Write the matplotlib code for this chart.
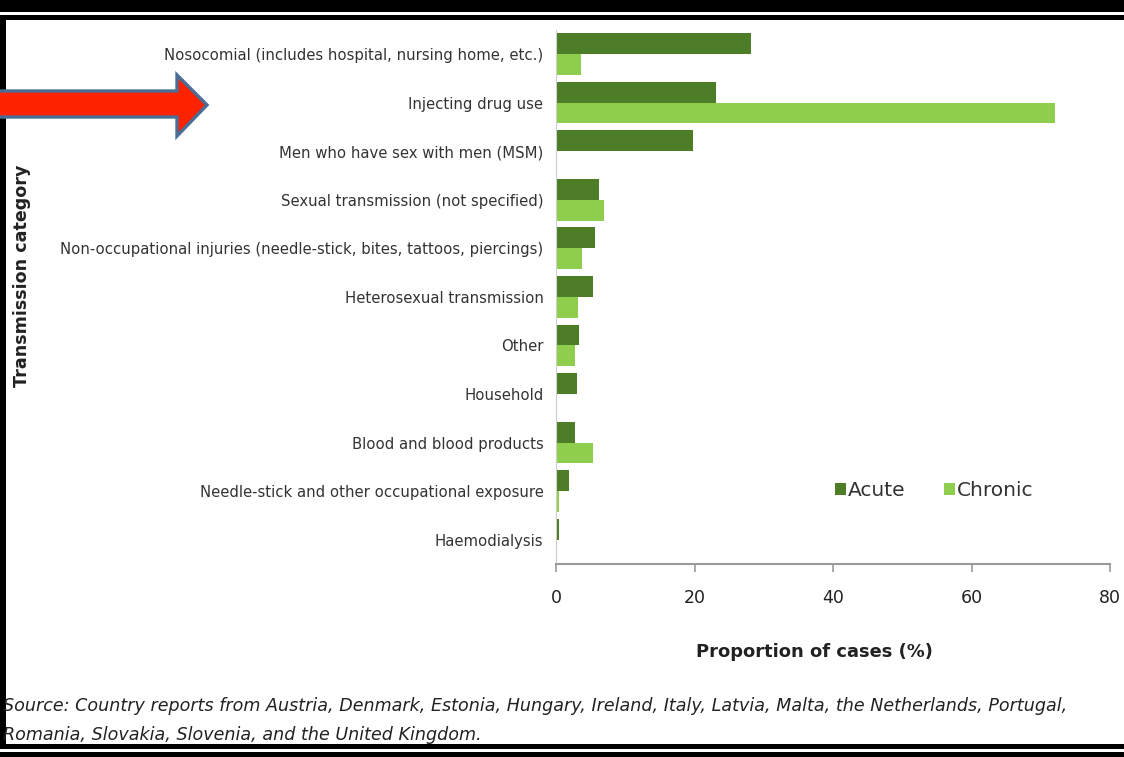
import numpy as np
import matplotlib
matplotlib.use("Agg")
import matplotlib.pyplot as plt
from matplotlib.patches import Rectangle, Polygon

categories = [
    "Nosocomial (includes hospital, nursing home, etc.)",
    "Injecting drug use",
    "Men who have sex with men (MSM)",
    "Sexual transmission (not specified)",
    "Non-occupational injuries (needle-stick, bites, tattoos, piercings)",
    "Heterosexual transmission",
    "Other",
    "Household",
    "Blood and blood products",
    "Needle-stick and other occupational exposure",
    "Haemodialysis",
]
acute = [28.1, 23.1, 19.8, 6.2, 5.6, 5.3, 3.3, 3.0, 2.7, 1.9, 0.5]
chronic = [3.6, 72.0, 0.2, 6.9, 3.7, 3.2, 2.7, 0.1, 5.3, 0.4, 0.1]
xticks = [0, 20, 40, 60, 80]

source_lines = [
    "Source: Country reports from Austria, Denmark, Estonia, Hungary, Ireland, Italy, Latvia, Malta, the Netherlands, Portugal,",
    "Romania, Slovakia, Slovenia, and the United Kingdom.",
]

ACUTE_COLOR = "#4d7d26"
CHRONIC_COLOR = "#8fce4c"
TEXT_COLOR = "#333333"

W, H = 1124, 757
fig = plt.figure(figsize=(W / 100, H / 100), dpi=100)
fig.patch.set_facecolor("white")


def fx(px):
    return px / W


def fy(py):
    return 1 - py / H


ax = fig.add_axes([fx(556), fy(564), fx(1110) - fx(556), fy(29.7) - fy(564)])

y = np.arange(len(categories))
h = 0.43
ax.barh(y - h / 2, acute, height=h, color=ACUTE_COLOR, label="Acute")
ax.barh(y + h / 2, chronic, height=h, color=CHRONIC_COLOR, label="Chronic")

ax.set_ylim(len(categories) - 0.5, -0.5)
ax.set_xlim(0, 80)
ax.set_yticks(y)
ax.set_yticklabels(categories, fontsize=10.7, color=TEXT_COLOR)
ax.tick_params(axis="y", length=0, pad=9)
ax.set_xticks(xticks)
ax.set_xticklabels([str(t) for t in xticks], fontsize=12.5, color="#222222")
ax.tick_params(axis="x", length=6, width=1.2, color="#999999", pad=12)

for side in ["top", "right"]:
    ax.spines[side].set_visible(False)
ax.spines["bottom"].set_color("#999999")
ax.spines["bottom"].set_linewidth(1.5)
ax.spines["left"].set_color("#cfcfcf")
ax.spines["left"].set_linewidth(0.8)

leg = ax.legend(
    loc="center",
    bbox_to_anchor=(0.683, 0.137),
    ncol=2,
    frameon=False,
    fontsize=14.5,
    handlelength=0.55,
    handleheight=0.55,
    handletextpad=0.1,
    columnspacing=1.9,
)
for t in leg.get_texts():
    t.set_color(TEXT_COLOR)

fig.text(fx(814), fy(652), "Proportion of cases (%)", fontsize=12.9,
         fontweight="bold", color="#222222", ha="center", va="center")
fig.text(fx(22), fy(276), "Transmission category", fontsize=12.6,
         fontweight="bold", color="#222222", ha="center", va="center",
         rotation=90)

for i, line in enumerate(source_lines):
    fig.text(fx(3), fy(706 + 29 * i), line, fontsize=12.6, style="italic",
             color="#222222", ha="left", va="center")

# frame lines around the figure
frame = [
    (0, 0, W, 12),
    (0, 15, W, 4.5),
    (0, 19, 6.5, 729),
    (0, 744, W, 5),
    (0, 752, W, 5),
]
for x0, y0, w, hh in frame:
    fig.add_artist(Rectangle((fx(x0), fy(y0 + hh)), fx(w), hh / H,
                             transform=fig.transFigure, facecolor="black",
                             edgecolor="none"))

# pointer arrow
arrow_px = [(-10, 91), (177, 91), (177, 75), (207, 105),
            (177, 136), (177, 117), (-10, 117)]
fig.add_artist(Polygon([(fx(px), fy(py)) for px, py in arrow_px],
                       closed=True, transform=fig.transFigure,
                       facecolor="#ff2200", edgecolor="#4a6e96",
                       linewidth=2.4, joinstyle="miter"))

fig.savefig("out.png", dpi=100)
